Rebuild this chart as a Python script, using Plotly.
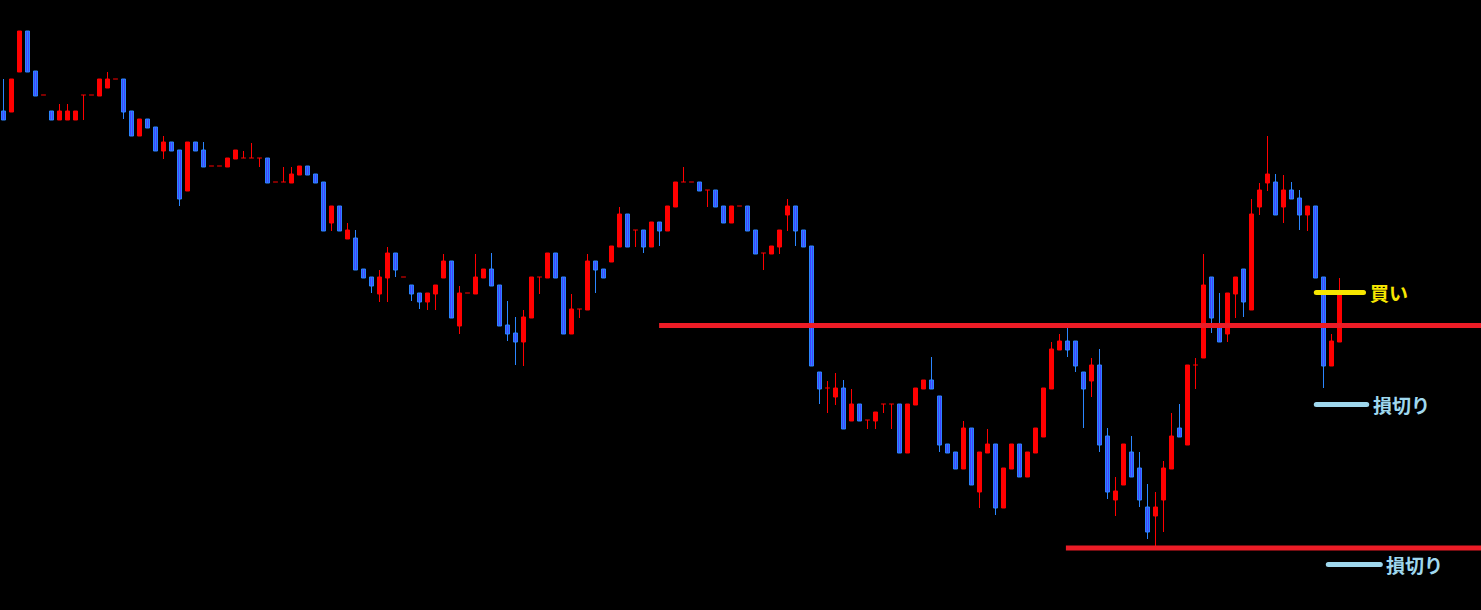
import plotly.graph_objects as go

# OHLC data (price units), one candle per bar
opens = [489, 488, 528, 569, 529, 505, 489, 480, 480, 480, 505, 505, 504, 512, 521, 521, 489, 464, 481, 473,
         449, 458, 450, 409, 458, 450, 434, 434, 433, 441, 442, 442, 442, 442, 418, 418, 417, 425, 434, 426,
         418, 377, 394, 361, 362, 331, 323, 306, 322, 347, 323, 315, 307, 298, 306, 322, 339, 274, 307, 306,
         322, 331, 315, 275, 267, 258, 282, 323, 322, 347, 323, 266, 291, 290, 339, 331, 338, 353, 386, 370,
         370, 353, 378, 369, 393, 418, 418, 418, 410, 410, 394, 377, 394, 394, 370, 347, 346, 353, 385, 394,
         370, 354, 228, 212, 203, 212, 179, 196, 180, 179, 196, 196, 196, 147, 195, 211, 220, 204, 156, 148,
         131, 172, 108, 147, 156, 92, 131, 156, 123, 147, 163, 211, 250, 259, 259, 228, 219, 235, 164, 100,
         115, 148, 132, 93, 84, 100, 131, 172, 155, 235, 242, 323, 274, 266, 306, 331, 290, 393, 417, 418,
         393, 410, 402, 385, 394, 323, 234, 258]
highs = [521, 521, 569, 569, 529, 505, 489, 496, 496, 489, 505, 505, 521, 528, 521, 521, 489, 481, 481, 473,
         464, 458, 450, 458, 458, 458, 434, 434, 442, 450, 449, 457, 442, 442, 418, 433, 433, 434, 434, 426,
         418, 394, 394, 377, 370, 331, 323, 330, 353, 347, 323, 315, 307, 307, 315, 346, 339, 314, 307, 346,
         331, 347, 315, 299, 283, 290, 323, 323, 347, 347, 323, 306, 291, 346, 339, 331, 354, 393, 386, 370,
         370, 378, 378, 394, 418, 433, 418, 418, 410, 410, 394, 394, 394, 394, 370, 347, 354, 370, 401, 394,
         370, 354, 228, 219, 227, 220, 211, 196, 180, 188, 196, 196, 196, 196, 212, 220, 243, 204, 156, 148,
         179, 172, 148, 171, 156, 132, 156, 156, 148, 172, 212, 258, 266, 272, 259, 228, 242, 251, 172, 123,
         156, 164, 148, 116, 108, 139, 187, 196, 235, 242, 346, 323, 307, 307, 323, 331, 401, 417, 464, 426,
         425, 418, 410, 394, 394, 323, 266, 322]
lows = [480, 488, 528, 528, 504, 505, 480, 480, 480, 480, 480, 505, 504, 512, 521, 481, 464, 464, 472, 449,
        441, 449, 394, 409, 449, 433, 434, 434, 433, 441, 442, 442, 433, 417, 418, 418, 417, 425, 425, 417,
        369, 369, 369, 361, 330, 322, 307, 298, 298, 323, 323, 299, 291, 290, 290, 322, 282, 266, 307, 306,
        322, 314, 274, 259, 235, 234, 282, 306, 322, 322, 266, 266, 282, 290, 307, 322, 338, 353, 353, 353,
        347, 353, 354, 369, 393, 418, 418, 409, 393, 393, 377, 377, 394, 369, 346, 330, 346, 346, 369, 354,
        353, 234, 196, 187, 195, 171, 179, 179, 171, 171, 187, 171, 147, 147, 195, 211, 211, 148, 147, 131,
        131, 115, 92, 147, 85, 92, 131, 123, 123, 147, 163, 211, 250, 243, 228, 172, 203, 148, 101, 84,
        115, 123, 93, 61, 53, 68, 131, 163, 155, 211, 242, 267, 258, 258, 282, 283, 290, 385, 409, 385,
        377, 401, 370, 369, 322, 212, 234, 258]
closes = [480, 521, 569, 528, 504, 505, 480, 489, 489, 489, 505, 505, 521, 521, 521, 488, 464, 481, 472, 449,
          458, 449, 401, 458, 449, 433, 434, 434, 442, 450, 442, 442, 442, 417, 418, 418, 426, 434, 425, 417,
          369, 394, 369, 370, 330, 322, 314, 323, 347, 330, 323, 306, 298, 307, 315, 339, 282, 307, 307, 323,
          331, 314, 274, 266, 258, 283, 323, 323, 347, 322, 266, 291, 291, 339, 330, 322, 354, 386, 353, 370,
          353, 378, 369, 394, 418, 418, 418, 409, 410, 393, 377, 394, 394, 369, 346, 347, 354, 370, 394, 369,
          353, 234, 211, 212, 212, 171, 196, 179, 180, 188, 196, 196, 147, 196, 212, 220, 211, 155, 147, 131,
          172, 115, 148, 156, 92, 132, 156, 123, 148, 172, 212, 251, 259, 250, 234, 211, 235, 155, 108, 109,
          156, 123, 100, 68, 93, 132, 164, 163, 235, 235, 315, 282, 258, 307, 323, 298, 386, 410, 426, 385,
          410, 401, 385, 394, 322, 234, 259, 306]

# Horizontal levels and annotations
resistance_price = 274.5
resistance_start = 81.95
support_price = 52.0
support_start = 132.8
buy_price = 307.5
buy_span = [164.1, 170.0]
stop1_price = 195.5
stop1_span = [164.1, 170.4]
stop2_price = 35.5
stop2_span = [165.6, 172.1]
buy_label = "買い"
stop_label = "損切り"

UP_COLOR = "#ff0000"
DOWN_FILL = "#4242ff"
DOWN_LINE = "#2b86ff"
LEVEL_RED = "#ec1c26"
YELLOW = "#f7e600"
LIGHT_BLUE = "#9fd8ee"

n = len(opens)
idx = list(range(n))

fig = go.Figure()

# Wicks (and doji dashes)
for is_up, col in ((True, UP_COLOR), (False, DOWN_LINE)):
    xs, ys = [], []
    for i in idx:
        up = closes[i] >= opens[i]
        if up != is_up:
            continue
        if highs[i] != lows[i]:
            xs += [i, i, None]
            ys += [lows[i], highs[i], None]
        if opens[i] == closes[i]:
            xs += [i - 0.3, i + 0.3, None]
            ys += [opens[i], opens[i], None]
    fig.add_trace(go.Scatter(x=xs, y=ys, mode="lines", line=dict(color=col, width=1),
                             hoverinfo="skip", showlegend=False))

# Bodies
bx, bbase, bh, bcol, blcol = [], [], [], [], []
for i in idx:
    if opens[i] == closes[i]:
        continue
    up = closes[i] > opens[i]
    bx.append(i)
    bbase.append(min(opens[i], closes[i]))
    bh.append(abs(closes[i] - opens[i]))
    bcol.append(UP_COLOR if up else DOWN_FILL)
    blcol.append(UP_COLOR if up else DOWN_LINE)
fig.add_trace(go.Bar(x=bx, y=bh, base=bbase, width=0.5,
                     marker=dict(color=bcol, line=dict(color=blcol, width=1)),
                     hoverinfo="skip", showlegend=False))

x_end = 200
fig.add_trace(go.Scatter(x=[resistance_start, x_end], y=[resistance_price] * 2, mode="lines",
                         line=dict(color=LEVEL_RED, width=5), showlegend=False, hoverinfo="skip"))
fig.add_trace(go.Scatter(x=[support_start, x_end], y=[support_price] * 2, mode="lines",
                         line=dict(color=LEVEL_RED, width=5), showlegend=False, hoverinfo="skip"))

for span, price, col in ((buy_span, buy_price, YELLOW), (stop1_span, stop1_price, LIGHT_BLUE),
                         (stop2_span, stop2_price, LIGHT_BLUE)):
    fig.add_trace(go.Scatter(x=span, y=[price] * 2, mode="lines+markers",
                             line=dict(color=col, width=5), marker=dict(color=col, size=5),
                             showlegend=False, hoverinfo="skip"))

for span, price, col, txt in ((buy_span, buy_price, YELLOW, buy_label),
                              (stop1_span, stop1_price, LIGHT_BLUE, stop_label),
                              (stop2_span, stop2_price, LIGHT_BLUE, stop_label)):
    fig.add_annotation(x=span[1], y=price, text="<b>" + txt + "</b>", showarrow=False,
                       xanchor="left", yanchor="middle", xshift=4,
                       font=dict(family="Noto Sans CJK JP", size=19, color=col))

fig.update_layout(
    width=1481, height=610,
    margin=dict(l=0, r=0, t=0, b=0),
    paper_bgcolor="black", plot_bgcolor="black",
    barmode="overlay",
    xaxis=dict(range=[-0.4375, 184.6875], visible=False, showgrid=False, zeroline=False),
    yaxis=dict(range=[-10, 600], visible=False, showgrid=False, zeroline=False),
    showlegend=False,
)

fig.write_html("out.html", config={"displayModeBar": False},
               post_script="document.body.style.margin='0';")
